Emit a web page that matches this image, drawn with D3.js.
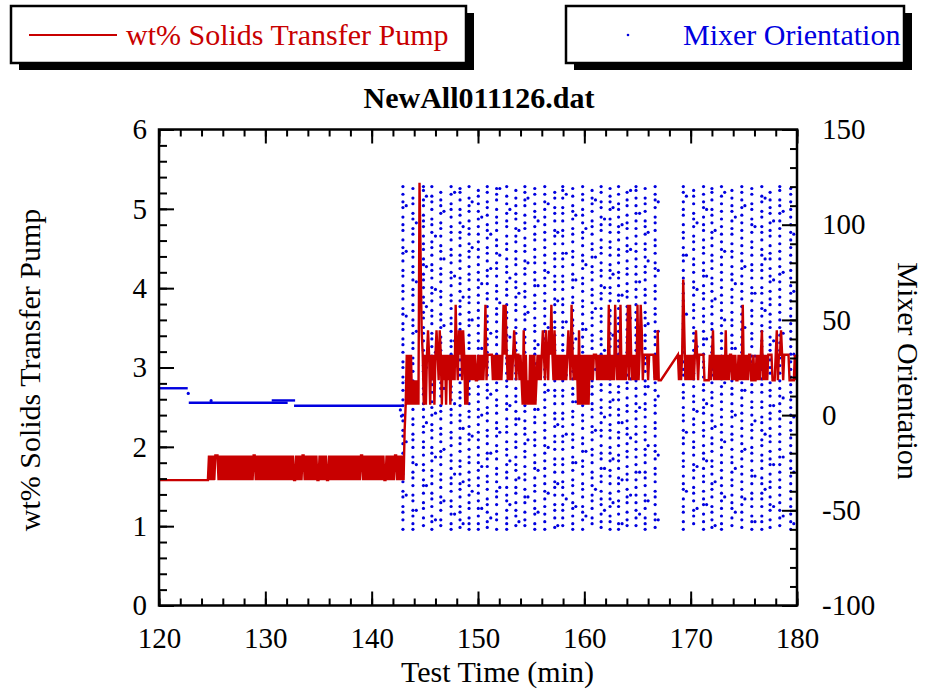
<!DOCTYPE html>
<html>
<head>
<meta charset="utf-8">
<script src="https://cdn.jsdelivr.net/npm/d3@7"></script>
<style>
  body { margin: 0; background: #fff; }
  svg text { font-family: "Liberation Serif", "Times New Roman", serif; }
</style>
</head>
<body>
<svg id="chart" width="926" height="690"></svg>
<script>

///////////////////////////////////////////////////
//
//        Data
//
///////////////////////////////////////////////////

var xTicks = [120, 130, 140, 150, 160, 170, 180];
var yLeftTicks = [0, 1, 2, 3, 4, 5, 6];
var yRightTicks = [-100, -50, 0, 50, 100, 150];

// wt% solids: quantized levels, coded one character per sample
var redLevels = [1.58, 1.89, 2.21, 2.53, 2.84, 3.16, 3.47, 3.79, 4.11, 4.42, 4.74, 5.05, 5.33];
var redStep = 0.1;             // min between logged samples
var redStart = [120, 168.8];   // logging resumes after the gap
var redCodes = [
  // 120.0 - 124.6
  "00000000000000000000000000000000000000000000000" +
  // 124.7 - 143.0
  "10101011101010101010" + "10101010101010101010" + "10110101010101010101" +
  "01010101010101010101" + "00101010110101010101" + "01001010101001010101" +
  "01010101010101010101" + "01011010101010101010" + "10101001010101011010" + "1010" +
  // 143.1 - 167.2
  "2353535343" + "4343c96535" + "3565354535" + "6546535453" + "5453545475" +
  "4656465353" + "5454545445" + "4545457455" + "5554545454" + "5457575454" +
  "5456545545" + "4363534353" + "5353454545" + "6546546575" + "4645454545" +
  "4545654754" + "5453635353" + "5353545455" + "5454545454" + "5474545475" +
  "4547454545" + "7475454547" + "4576455554" + "5555545464" + "44",
  // 168.8 - 180.0
  "5454586454" + "5454545654" + "5555544444" + "5456454545" + "4545464545" +
  "5454544545" + "4745454554" + "4544545456" + "4545455554" + "4456455654" +
  "5555544444" + "545"
];

// mixer orientation while parked (deg)
var holdT0 = [120, 122.8, 130.6, 132.7];
var holdT1 = [122.7, 132.1, 132.8, 142.85];
var holdA = [14.1, 6.5, 7.7, 4.9];
var loneT = [122.75, 124.9, 142.7, 142.8];
var loneA = [11.4, 7.6, 2.7, -0.5];

// mixer orientation while sweeping: one column of readings per sweep
var mixT = [142.94, 143.88, 144.87, 145.66, 146.5, 147.47, 148.31, 149.16, 150.03, 150.87,
  151.75, 152.7, 153.56, 154.41, 155.34, 156.28, 157.22, 157.97, 158.91, 159.84,
  160.73, 161.58, 162.42, 163.22, 164.02, 164.86, 165.72, 166.66,
  169.31, 170.28, 171.21, 172.0, 172.9, 173.88, 174.81, 175.75, 176.69, 177.47, 178.38, 179.41];

var mixA = [
  [120,116,112,109,104,100,97,92,88,85,81,76,73,68,65,61,56,53,48,45,40,37,33,28,25,20,17,13,8,5,0,-3,-8,-11,-15,-20,-23,-28,-31,-35,-40,-43,-48,-51,-55,-60],
  [119,114,111,106,103,98,95,91,86,83,78,75,71,66,63,58,55,50,47,43,38,35,30,27,23,18,15,10,7,3,-2,-5,-10,-13,-17,-22,-25,-30,-33,-37,-42,-45,-50,-53,-57,-60],
  [120,118,113,110,105,102,99,94,90,87,82,79,74,71,67,62,59,54,51,46,43,39,34,31,26,23,19,14,11,6,3,-1,-6,-9,-14,-17,-21,-26,-29,-34,-37,-41,-46,-49,-54,-58],
  [120,115,112,108,103,100,96,91,88,84,79,76,72,67,64,60,55,52,48,43,40,36,31,28,24,19,16,12,7,4,0,-5,-8,-12,-17,-20,-24,-29,-32,-36,-41,-44,-48,-53,-56,-60],
  [117,113,110,106,101,98,94,89,86,82,77,74,70,65,62,58,53,50,46,41,38,34,29,26,22,17,14,10,5,2,-2,-7,-10,-14,-19,-22,-26,-31,-34,-38,-43,-46,-50,-55,-58],
  [120,116,111,108,104,99,96,92,87,84,80,75,72,68,63,60,56,51,48,44,39,36,32,27,24,20,15,12,8,3,0,-4,-9,-12,-16,-21,-24,-28,-33,-36,-40,-45,-48,-52,-57,-60],
  [119,117,113,108,105,101,96,93,89,84,81,77,72,69,65,60,57,53,48,45,41,36,33,29,24,21,17,12,9,5,0,-3,-7,-12,-15,-19,-24,-27,-31,-36,-39,-43,-48,-51,-55,-59],
  [120,114,110,107,102,98,95,90,86,83,78,74,71,66,62,59,54,50,47,42,38,35,30,26,23,18,14,11,6,2,-1,-6,-10,-13,-18,-22,-25,-30,-34,-37,-42,-46,-49,-54,-57,-60],
  [118,115,111,107,103,99,95,91,87,83,79,75,71,67,63,59,55,51,47,43,39,35,31,27,23,19,15,11,7,3,-1,-5,-9,-13,-17,-21,-25,-29,-33,-37,-41,-45,-49,-53,-57,-60],
  [120,117,112,109,105,100,97,93,88,85,81,76,73,69,64,61,57,52,49,45,40,37,33,28,25,21,16,13,9,4,1,-3,-8,-11,-15,-20,-23,-27,-32,-35,-39,-44,-47,-51,-56,-59],
  [119,116,113,108,104,101,97,92,89,85,80,77,73,68,65,61,56,53,49,44,41,37,32,29,25,20,17,13,8,5,1,-4,-7,-11,-16,-19,-23,-28,-31,-35,-40,-43,-47,-52,-55,-60],
  [120,115,111,106,102,99,94,90,87,82,78,75,70,66,63,58,54,51,46,42,39,34,30,27,22,18,15,10,6,3,-2,-6,-9,-14,-18,-21,-26,-30,-33,-38,-42,-45,-50,-54,-57,-60],
  [118,114,110,106,103,98,94,91,86,82,79,74,70,67,62,58,55,50,46,43,38,34,31,26,22,19,14,10,7,2,-2,-5,-10,-14,-17,-22,-26,-29,-34,-38,-41,-46,-50,-53,-58],
  [120,117,113,110,105,101,98,93,89,86,81,77,74,69,65,62,57,53,50,45,41,38,33,29,26,21,17,14,9,5,2,-3,-7,-10,-15,-19,-22,-27,-31,-34,-39,-43,-46,-51,-55,-58],
  [119,116,111,107,104,99,95,92,87,83,80,75,71,68,63,59,56,51,47,44,39,35,32,27,23,20,15,11,8,3,-1,-4,-9,-13,-16,-21,-25,-28,-33,-37,-40,-45,-49,-52,-57,-60],
  [120,116,112,108,104,100,96,92,88,84,80,76,72,68,64,60,56,52,48,44,40,36,32,28,24,20,16,12,8,4,0,-4,-8,-12,-16,-20,-24,-28,-32,-36,-40,-44,-48,-52,-56,-60],
  [117,114,109,106,102,97,94,90,85,82,78,73,70,66,61,58,54,49,46,42,37,34,30,25,22,18,13,10,6,1,-2,-6,-11,-14,-18,-23,-26,-30,-35,-38,-42,-47,-50,-54,-59],
  [120,118,114,109,106,102,97,94,90,85,82,78,73,70,66,61,58,54,49,46,42,37,34,30,25,22,18,13,10,6,1,-2,-6,-11,-14,-18,-23,-26,-30,-35,-38,-42,-47,-50,-54,-58],
  [119,115,110,107,103,98,95,91,86,83,79,74,71,67,62,59,55,50,47,43,38,35,31,26,23,19,14,11,7,2,-1,-5,-10,-13,-17,-22,-25,-29,-34,-37,-41,-46,-49,-53,-57,-60],
  [120,116,113,108,105,101,96,93,89,84,81,77,72,69,65,60,57,53,48,45,41,36,33,29,24,21,17,12,9,5,0,-3,-7,-12,-15,-19,-24,-27,-31,-36,-39,-43,-48,-51,-55,-60],
  [118,114,111,107,102,99,95,90,87,83,78,75,71,66,63,59,54,51,47,42,39,35,30,27,23,18,15,11,6,3,-1,-6,-9,-13,-18,-21,-25,-30,-33,-37,-42,-45,-49,-54,-57],
  [120,117,112,109,104,100,97,92,88,85,80,76,73,68,64,61,56,52,49,44,40,37,32,28,25,20,16,13,8,4,1,-4,-8,-11,-16,-20,-23,-28,-32,-35,-40,-44,-47,-52,-56,-59],
  [119,115,112,108,103,100,96,91,88,84,79,76,72,67,64,60,55,52,48,43,40,36,31,28,24,19,16,12,7,4,0,-5,-8,-12,-17,-20,-24,-29,-32,-36,-41,-44,-48,-53,-56,-60],
  [120,116,111,108,104,99,96,92,87,84,80,75,72,68,63,60,56,51,48,44,39,36,32,27,24,20,15,12,8,3,0,-4,-9,-12,-16,-21,-24,-28,-33,-36,-40,-45,-48,-52,-57,-60],
  [117,113,110,105,101,98,93,89,86,81,77,74,69,65,62,57,53,50,45,41,38,33,29,26,21,17,14,9,5,2,-3,-7,-10,-15,-19,-22,-27,-31,-34,-39,-43,-46,-51,-55,-58],
  [120,118,114,110,106,102,98,94,90,86,82,78,74,70,66,62,58,54,50,46,42,38,34,30,26,22,18,14,10,6,2,-2,-6,-10,-14,-18,-22,-26,-30,-34,-38,-42,-46,-50,-54,-58],
  [119,114,111,107,102,99,95,90,87,83,78,75,71,66,63,59,54,51,47,42,39,35,30,27,23,18,15,11,6,3,-1,-6,-9,-13,-18,-21,-25,-30,-33,-37,-42,-45,-49,-54,-57,-60],
  [120,116,113,109,104,101,97,92,89,85,80,77,73,68,65,61,56,53,49,44,41,37,32,29,25,20,17,13,8,5,1,-4,-7,-11,-16,-19,-23,-28,-31,-35,-40,-43,-47,-52,-55,-59],
  [120,117,112,108,105,100,96,93,88,84,81,76,72,69,64,60,57,52,48,45,40,36,33,28,24,21,16,12,9,4,0,-3,-8,-12,-15,-20,-24,-27,-32,-36,-39,-44,-48,-51,-56,-60],
  [118,115,111,106,103,99,94,91,87,82,79,75,70,67,63,58,55,51,46,43,39,34,31,27,22,19,15,10,7,3,-2,-5,-9,-14,-17,-21,-26,-29,-33,-38,-41,-45,-50,-53,-57],
  [120,116,112,109,104,100,97,92,88,85,80,76,73,68,64,61,56,52,49,44,40,37,32,28,25,20,16,13,8,4,1,-4,-8,-11,-16,-20,-23,-28,-32,-35,-40,-44,-47,-52,-56,-60],
  [119,117,113,108,105,101,96,93,89,84,81,77,72,69,65,60,57,53,48,45,41,36,33,29,24,21,17,12,9,5,0,-3,-7,-12,-15,-19,-24,-27,-31,-36,-39,-43,-48,-51,-55,-59],
  [120,115,111,107,103,99,95,91,87,83,79,75,71,67,63,59,55,51,47,43,39,35,31,27,23,19,15,11,7,3,-1,-5,-9,-13,-17,-21,-25,-29,-33,-37,-41,-45,-49,-53,-57,-60],
  [118,114,110,107,102,98,95,90,86,83,78,74,71,66,62,59,54,50,47,42,38,35,30,26,23,18,14,11,6,2,-1,-6,-10,-13,-18,-22,-25,-30,-34,-37,-42,-46,-49,-54,-58],
  [120,117,113,109,105,101,97,93,89,85,81,77,73,69,65,61,57,53,49,45,41,37,33,29,25,21,17,13,9,5,1,-3,-7,-11,-15,-19,-23,-27,-31,-35,-39,-43,-47,-51,-55,-59],
  [119,116,111,108,103,100,96,91,88,84,79,76,72,67,64,60,55,52,48,43,40,36,31,28,24,19,16,12,7,4,0,-5,-8,-12,-17,-20,-24,-29,-32,-36,-41,-44,-48,-53,-56,-60],
  [120,115,112,107,104,99,96,92,87,84,79,76,72,67,64,59,56,52,47,44,39,36,32,27,24,19,16,12,7,4,-1,-4,-8,-13,-16,-21,-24,-28,-33,-36,-41,-44,-48,-53,-56,-60],
  [117,113,109,106,101,97,94,89,85,82,77,73,70,65,61,58,53,49,46,41,37,34,29,25,22,17,13,10,5,1,-2,-7,-11,-14,-19,-23,-26,-31,-35,-38,-43,-47,-50,-55,-59],
  [120,118,113,110,106,102,98,94,90,86,82,78,74,70,66,62,58,54,50,46,42,38,34,30,26,22,18,14,10,6,2,-2,-6,-10,-14,-18,-22,-26,-30,-34,-38,-42,-46,-50,-54,-58],
  [119,116,112,108,104,100,96,92,88,84,80,76,72,68,64,60,56,52,48,44,40,36,32,28,24,20,16,12,8,4,0,-4,-8,-12,-16,-20,-24,-28,-32,-36,-40,-44,-48,-52,-56,-60]
];

// stray readings logged between sweeps
var sideT = [143.25, 144.2, 145.15, 146.0, 146.8, 147.8, 148.6, 149.45, 150.35, 151.2,
  152.05, 153.0, 153.85, 154.7, 155.65, 156.6, 157.5, 158.3, 159.2, 160.15,
  161.05, 161.9, 162.7, 163.55, 164.35, 165.2, 166.0, 166.95,
  169.6, 170.6, 171.5, 172.3, 173.2, 174.2, 175.1, 176.05, 177.0, 177.8, 178.7, 179.7];
var sideA = [
  [110,86,52,18,-14,-42], [101,70,44,9,-26,-50], [115,78,57,25,-4,-37], [94,66,33,1,-22,-55],
  [107,82,47,14,-18,-45], [117,73,39,6,-31,-52], [99,62,28,-7,-35,-57], [112,88,50,20,-11,-40],
  [104,69,35,0,-27,-49], [95,77,43,11,-20,-54], [119,84,59,23,-9,-38], [108,72,41,5,-24,-47],
  [97,64,30,-2,-33,-56], [114,80,54,16,-13,-43], [102,68,37,3,-29,-51], [111,75,46,13,-17,-41],
  [96,60,26,-5,-36,-58], [116,85,49,21,-10,-44], [105,71,40,7,-25,-48], [98,79,45,12,-19,-53],
  [113,83,56,24,-8,-39], [103,67,34,-1,-28,-50], [109,74,42,8,-23,-46], [100,63,29,-4,-34,-57],
  [118,87,51,19,-12,-42], [106,70,38,4,-30,-52], [96,81,48,15,-16,-45], [112,76,44,10,-21,-55],
  [115,84,53,22,-9,-40], [101,66,36,2,-27,-49], [108,73,40,6,-24,-47], [97,61,27,-6,-35,-58],
  [117,86,50,17,-14,-43], [104,69,35,0,-28,-51], [110,78,46,13,-18,-44], [99,64,31,-3,-32,-56],
  [114,82,55,23,-10,-39], [102,71,39,5,-26,-48], [107,75,43,9,-22,-53], [95,65,32,-1,-30,-57]
];

///////////////////////////////////////////////////
//
//        Chart
//
///////////////////////////////////////////////////

var red = "#c80000",
    blue = "#0000e0";

var svg = d3.select("#chart");

var plotL = 159, plotR = 797, plotT = 129.5, plotB = 605.5;

var x = d3.scaleLinear().domain([120, 180]).range([plotL, plotR]);
var yL = d3.scaleLinear().domain([0, 6]).range([plotB, plotT]);
var yR = d3.scaleLinear().domain([-100, 150]).range([plotB, plotT]);

// plain labels, ascii minus like the original plot
var plain = function(d) { return String(d); };

// flatten the coded wt% samples into one line (gap is bridged by the line)
var redPts = [];
redCodes.forEach(function(code, k) {
  for (var j = 0; j < code.length; j++) {
    redPts.push({t: redStart[k] + j * redStep, v: redLevels[parseInt(code[j], 13)]});
  }
});

// mixer dots
var mixPts = [];
mixT.forEach(function(t, k) {
  mixA[k].forEach(function(a) { mixPts.push({t: t, a: a}); });
});
sideT.forEach(function(t, k) {
  sideA[k].forEach(function(a) { mixPts.push({t: t, a: a}); });
});
loneT.forEach(function(t, k) { mixPts.push({t: t, a: loneA[k]}); });

// parked mixer
svg.selectAll(".hold")
  .data(holdA)
  .enter()
  .append("line")
  .attr("x1", function(d, i) { return x(holdT0[i]); })
  .attr("x2", function(d, i) { return x(holdT1[i]); })
  .attr("y1", function(d) { return yR(d); })
  .attr("y2", function(d) { return yR(d); })
  .attr("stroke", blue)
  .attr("stroke-width", 2.4);

svg.selectAll(".mix")
  .data(mixPts)
  .enter()
  .append("circle")
  .attr("cx", function(d) { return x(d.t); })
  .attr("cy", function(d) { return yR(d.a); })
  .attr("r", 1.6)
  .attr("fill", blue);

// wt% line
var line = d3.line()
  .x(function(d) { return x(d.t); })
  .y(function(d) { return yL(d.v); });

svg.append("path")
  .datum(redPts)
  .attr("d", line)
  .attr("fill", "none")
  .attr("stroke", red)
  .attr("stroke-width", 2.4);

// axes, ticks pointing into the plot
function styleAxis(g) {
  g.select(".domain").remove();
  g.selectAll(".tick line").attr("stroke", "#000").attr("stroke-width", 2);
  g.selectAll(".tick text").style("font-size", "29px").attr("fill", "#000");
}

svg.append("g").attr("transform", "translate(0," + plotB + ")")
  .call(d3.axisBottom(x).tickValues(x.ticks(30)).tickSize(-7).tickFormat(""))
  .call(styleAxis);
svg.append("g").attr("transform", "translate(0," + plotB + ")")
  .call(d3.axisBottom(x).tickValues(xTicks).tickSize(-14).tickPadding(22).tickFormat(plain))
  .call(styleAxis);

svg.append("g").attr("transform", "translate(0," + plotT + ")")
  .call(d3.axisTop(x).tickValues(x.ticks(30)).tickSize(-7).tickFormat(""))
  .call(styleAxis);
svg.append("g").attr("transform", "translate(0," + plotT + ")")
  .call(d3.axisTop(x).tickValues(xTicks).tickSize(-14).tickFormat(""))
  .call(styleAxis);

svg.append("g").attr("transform", "translate(" + plotL + ",0)")
  .call(d3.axisLeft(yL).tickValues(yL.ticks(30)).tickSize(-8).tickFormat(""))
  .call(styleAxis);
svg.append("g").attr("transform", "translate(" + plotL + ",0)")
  .call(d3.axisLeft(yL).tickValues(yLeftTicks).tickSize(-15).tickPadding(12).tickFormat(plain))
  .call(styleAxis);

svg.append("g").attr("transform", "translate(" + plotR + ",0)")
  .call(d3.axisRight(yR).tickValues(yR.ticks(25)).tickSize(-7).tickFormat(""))
  .call(styleAxis);
svg.append("g").attr("transform", "translate(" + plotR + ",0)")
  .call(d3.axisRight(yR).tickValues(yRightTicks).tickSize(-15).tickPadding(25).tickFormat(plain))
  .call(styleAxis);

// plot frame
svg.append("rect")
  .attr("x", plotL).attr("y", plotT)
  .attr("width", plotR - plotL).attr("height", plotB - plotT)
  .attr("fill", "none")
  .attr("stroke", "#000")
  .attr("stroke-width", 2.5);

// title and axis labels
svg.append("text")
  .attr("x", 479).attr("y", 108)
  .attr("text-anchor", "middle")
  .style("font-size", "30px").style("font-weight", "bold")
  .text("NewAll011126.dat");

svg.append("text")
  .attr("x", 497.5).attr("y", 682)
  .attr("text-anchor", "middle")
  .style("font-size", "30px")
  .text("Test Time (min)");

svg.append("text")
  .attr("transform", "translate(40,370) rotate(-90)")
  .attr("text-anchor", "middle")
  .style("font-size", "30px")
  .text("wt% Solids Transfer Pump");

svg.append("text")
  .attr("transform", "translate(898,371) rotate(90)")
  .attr("text-anchor", "middle")
  .style("font-size", "30px")
  .text("Mixer Orientation");

// legend boxes with drop shadow
function legendBox(bx, bw) {
  svg.append("rect")
    .attr("x", bx + 8).attr("y", 13)
    .attr("width", bw).attr("height", 57)
    .attr("fill", "#000");
  svg.append("rect")
    .attr("x", bx).attr("y", 6)
    .attr("width", bw).attr("height", 57)
    .attr("fill", "#fff")
    .attr("stroke", "#000")
    .attr("stroke-width", 2.5);
}

legendBox(11, 455);
svg.append("line")
  .attr("x1", 29).attr("x2", 117).attr("y1", 35).attr("y2", 35)
  .attr("stroke", red).attr("stroke-width", 2);
svg.append("text")
  .attr("x", 126).attr("y", 45)
  .attr("fill", red)
  .style("font-size", "30px")
  .text("wt% Solids Transfer Pump");

legendBox(566, 338);
svg.append("circle")
  .attr("cx", 628).attr("cy", 35).attr("r", 1.3)
  .attr("fill", blue);
svg.append("text")
  .attr("x", 683).attr("y", 45)
  .attr("fill", blue)
  .style("font-size", "30px")
  .text("Mixer Orientation");

</script>
</body>
</html>
